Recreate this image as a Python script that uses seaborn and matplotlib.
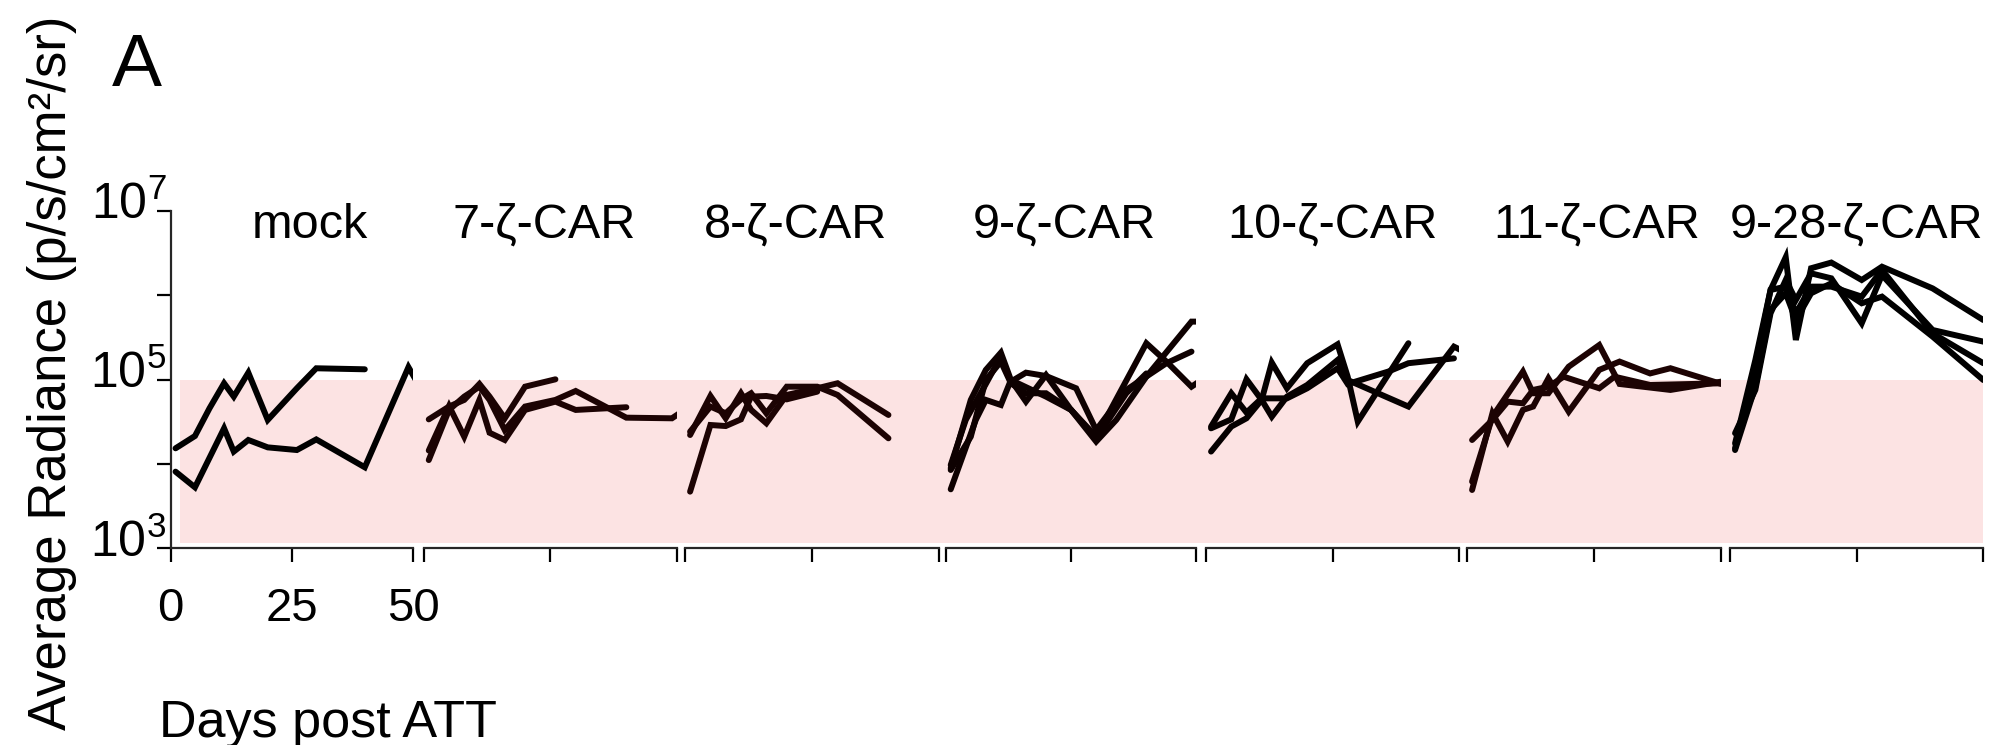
import numpy as np
import pandas as pd
import matplotlib
matplotlib.use("Agg")
import matplotlib.pyplot as plt
import matplotlib.transforms as mtransforms
from matplotlib.patches import Rectangle
import seaborn as sns

# ---------------- data ----------------
panel_titles = ["mock", "7-ζ-CAR", "8-ζ-CAR", "9-ζ-CAR", "10-ζ-CAR", "11-ζ-CAR", "9-28-ζ-CAR"]

mock_days = [[1, 5, 8, 11, 13, 16, 20, 26, 30, 40],
             [1, 5, 11, 13, 16, 20, 26, 30, 40, 49, 53]]
mock_rad = [[15300, 21400, 45600, 90200, 62700, 120500, 33200, 78700, 135800, 132100],
            [8090, 5280, 26400, 14000, 19200, 15700, 14600, 19500, 9120, 140000, 56000]]

car7_days = [[1, 5, 8, 11, 13, 16, 20, 26],
             [1, 5, 8, 11, 13, 16, 20, 26, 30, 40],
             [1, 5, 8, 11, 13, 16, 20, 26, 30, 40, 49, 53]]
car7_rad = [[33700, 47800, 57300, 88500, 62700, 34700, 82200, 100500],
            [14400, 48500, 21000, 57300, 23400, 19200, 43600, 54700, 43600, 46900],
            [11100, 43600, 62700, 82200, 57300, 25200, 47800, 57300, 73100, 35300, 34700, 50100]]

car8_days = [[1, 5, 8, 11, 13, 16, 20, 26, 30, 40],
             [1, 5, 8, 11, 13, 16, 20, 26, 30, 40],
             [1, 5, 8, 11, 13, 16, 20, 26]]
car8_rad = [[22000, 63800, 34700, 68700, 43600, 30300, 65600, 78700, 90200, 38000],
            [24100, 47800, 39800, 58200, 68700, 39800, 82200, 82200, 65600, 20100],
            [4690, 28900, 28100, 33700, 62700, 63800, 58200, 71800]]

car9_days = [[1, 5, 8, 11, 13, 16, 20, 25, 30, 40, 44, 49, 52],
             [1, 4, 8, 11, 13, 16, 20, 26, 30, 36, 44, 49],
             [1, 6, 8, 11, 13, 20, 25, 30, 34, 40, 49, 51],
             [1, 3, 5, 8, 11, 13, 16, 20, 25, 30, 36, 40]]
car9_rad = [[8870, 57300, 130000, 208000, 98600, 54700, 113000, 43600, 21000, 269000, 163000, 82200, 108000],
            [9700, 33200, 88500, 187000, 94400, 120500, 110000, 78700, 25200, 75200, 156000, 214000],
            [5000, 33200, 57300, 49900, 98600, 62700, 43600, 18400, 33200, 108000, 485000, 485000],
            [8470, 13400, 21000, 98600, 163000, 90200, 68700, 68700, 43600, 20100, 68700, 118000]]

car10_days = [[1, 5, 8, 11, 13, 16, 20, 26, 28, 40, 49, 51],
              [1, 5, 8, 11, 13, 16, 20, 26, 28, 30, 40],
              [1, 5, 8, 11, 16, 20, 26, 28, 36, 40, 49]]
car10_rad = [[26400, 33700, 100500, 57300, 36300, 62700, 86100, 170000, 98600, 47800, 245000, 214000],
             [14000, 27700, 34700, 57300, 158500, 78700, 156000, 261000, 108000, 31700, 269000],
             [27700, 68700, 40600, 59800, 59800, 78700, 135800, 88500, 124000, 156000, 178000]]

car11_days = [[1, 5, 8, 11, 13, 16, 20, 26, 30, 36, 40, 50],
              [1, 5, 11, 13, 16, 20, 26, 30, 40, 50],
              [1, 5, 8, 11, 13, 16, 19, 26, 29, 36, 50]]
car11_rad = [[4910, 39800, 18400, 43600, 47800, 103000, 41600, 130000, 163000, 118000, 136000, 88500],
             [6170, 36300, 124000, 68700, 68700, 142000, 256000, 88500, 75200, 94400],
             [19200, 33200, 54700, 52200, 75200, 82200, 108000, 78700, 108000, 86100, 90200]]

car928_days = [[1, 5, 8, 11, 13, 16, 20, 26, 30, 40, 50]] * 4
car928_rad = [[15300, 142000, 1150000, 2810000, 294000, 2080000, 2430000, 1510000, 2170000, 1200000, 507000],
              [23100, 75200, 608000, 1510000, 875000, 1810000, 1580000, 463000, 1730000, 386000, 281000],
              [17500, 170000, 1150000, 1260000, 608000, 1260000, 1260000, 959000, 1990000, 352000, 156000],
              [14600, 82200, 667000, 1050000, 507000, 1050000, 1380000, 800000, 959000, 322000, 98600]]

panel_days = [mock_days, car7_days, car8_days, car9_days, car10_days, car11_days, car928_days]
panel_rad = [mock_rad, car7_rad, car8_rad, car9_rad, car10_rad, car11_rad, car928_rad]

x_ticks = [0, 25, 50]
x_tick_labels = ["0", "25", "50"]
y_ticks = [1e3, 1e4, 1e5, 1e6, 1e7]
y_tick_labels = [r"$\mathregular{10^{3}}$", "", r"$\mathregular{10^{5}}$", "", r"$\mathregular{10^{7}}$"]
band_low, band_high = 1.17e3, 1.0e5
band_start_day = 1.9

# ---------------- style ----------------
panel_colors = ["#000000", "#1c0303", "#1c0303", "#0e0101", "#050000", "#1c0303", "#000000"]
band_color = "#fce3e3"
title_offset_px = [18, -6, -17, -7, 0, 3, 0]

sns.set_theme(style="ticks")
plt.rcParams["font.family"] = ["Liberation Sans", "DejaVu Sans"]
plt.rcParams["mathtext.fontset"] = "custom"
plt.rcParams["mathtext.rm"] = "Liberation Sans"
plt.rcParams["mathtext.it"] = "Liberation Sans:italic"
plt.rcParams["mathtext.bf"] = "Liberation Sans:bold"

W, H = 1999, 745
fig = plt.figure(figsize=(W / 100, H / 100), dpi=100)
fig.patch.set_facecolor("white")

panel_left_px = [170.7, 423.7, 685.0, 945.7, 1206.0, 1467.0, 1730.0]
panel_right_px = [413.3, 677.0, 939.3, 1196.5, 1459.0, 1721.3, 1983.3]
top_px, bottom_px = 210.7, 548.3

axes = []
for i in range(7):
    l = panel_left_px[i] / W
    w = (panel_right_px[i] - panel_left_px[i]) / W
    b = 1 - bottom_px / H
    h = (bottom_px - top_px) / H
    ax = fig.add_axes([l, b, w, h])
    ax.set_facecolor("none")
    rows = []
    for k, (d, r) in enumerate(zip(panel_days[i], panel_rad[i])):
        for dd, rr in zip(d, r):
            rows.append({"day": dd, "radiance": rr, "mouse": k})
    df = pd.DataFrame(rows)
    sns.lineplot(data=df, x="day", y="radiance", units="mouse", estimator=None,
                 color=panel_colors[i], lw=4.3, sort=False, ax=ax,
                 solid_joinstyle="miter", legend=False)
    ax.set_yscale("log")
    ax.set_xlim(0, 50)
    ax.set_ylim(1e3, 1e7)
    ax.set_xlabel("")
    ax.set_ylabel("")
    ax.set_xticks(x_ticks)
    ax.minorticks_off()
    for s in ["top", "right"]:
        ax.spines[s].set_visible(False)
    ax.spines["bottom"].set_linewidth(1.6)
    ax.spines["left"].set_linewidth(1.6)
    ax.tick_params(axis="x", length=10, width=1.6, color="black", pad=18)
    if i == 0:
        ax.set_xticklabels(x_tick_labels, fontsize=34, color="black")
        ax.set_yticks(y_ticks)
        ax.tick_params(axis="y", length=10, width=1.6, color="black", pad=-7)
        ax.set_yticklabels(y_tick_labels, fontsize=36, color="black")
        off = mtransforms.ScaledTranslation(0, 0.10, fig.dpi_scale_trans)
        for lab in ax.get_yticklabels():
            lab.set_transform(lab.get_transform() + off)
    else:
        ax.set_xticklabels(["", "", ""])
        ax.spines["left"].set_visible(False)
        ax.set_yticks([])
    toff = mtransforms.ScaledTranslation(title_offset_px[i] / 100, 0, fig.dpi_scale_trans)
    ax.text(0.5, 0.92, panel_titles[i], transform=ax.transAxes + toff, ha="center",
            va="baseline", fontsize=35, color="black")
    axes.append(ax)

# shaded band across all panels
inv = fig.transFigure.inverted()
x0, y0 = inv.transform(axes[0].transData.transform((band_start_day, band_low)))
x1, y1 = inv.transform(axes[-1].transData.transform((50, band_high)))
fig.patches.append(Rectangle((x0, y0), x1 - x0, y1 - y0, transform=fig.transFigure,
                             facecolor=band_color, edgecolor="none", zorder=-1))

fig.text(52 / W, 1 - 16 / H, "Average Radiance (p/s/cm²/sr)", rotation=90,
         ha="center", va="top", fontsize=38, color="black")
fig.text(159 / W, 1 - 737 / H, "Days post ATT", ha="left", va="baseline",
         fontsize=37.5, color="black")
fig.text(112 / W, 1 - 86 / H, "A", ha="left", va="baseline", fontsize=54, color="black")

fig.savefig("out.png", dpi=100)
